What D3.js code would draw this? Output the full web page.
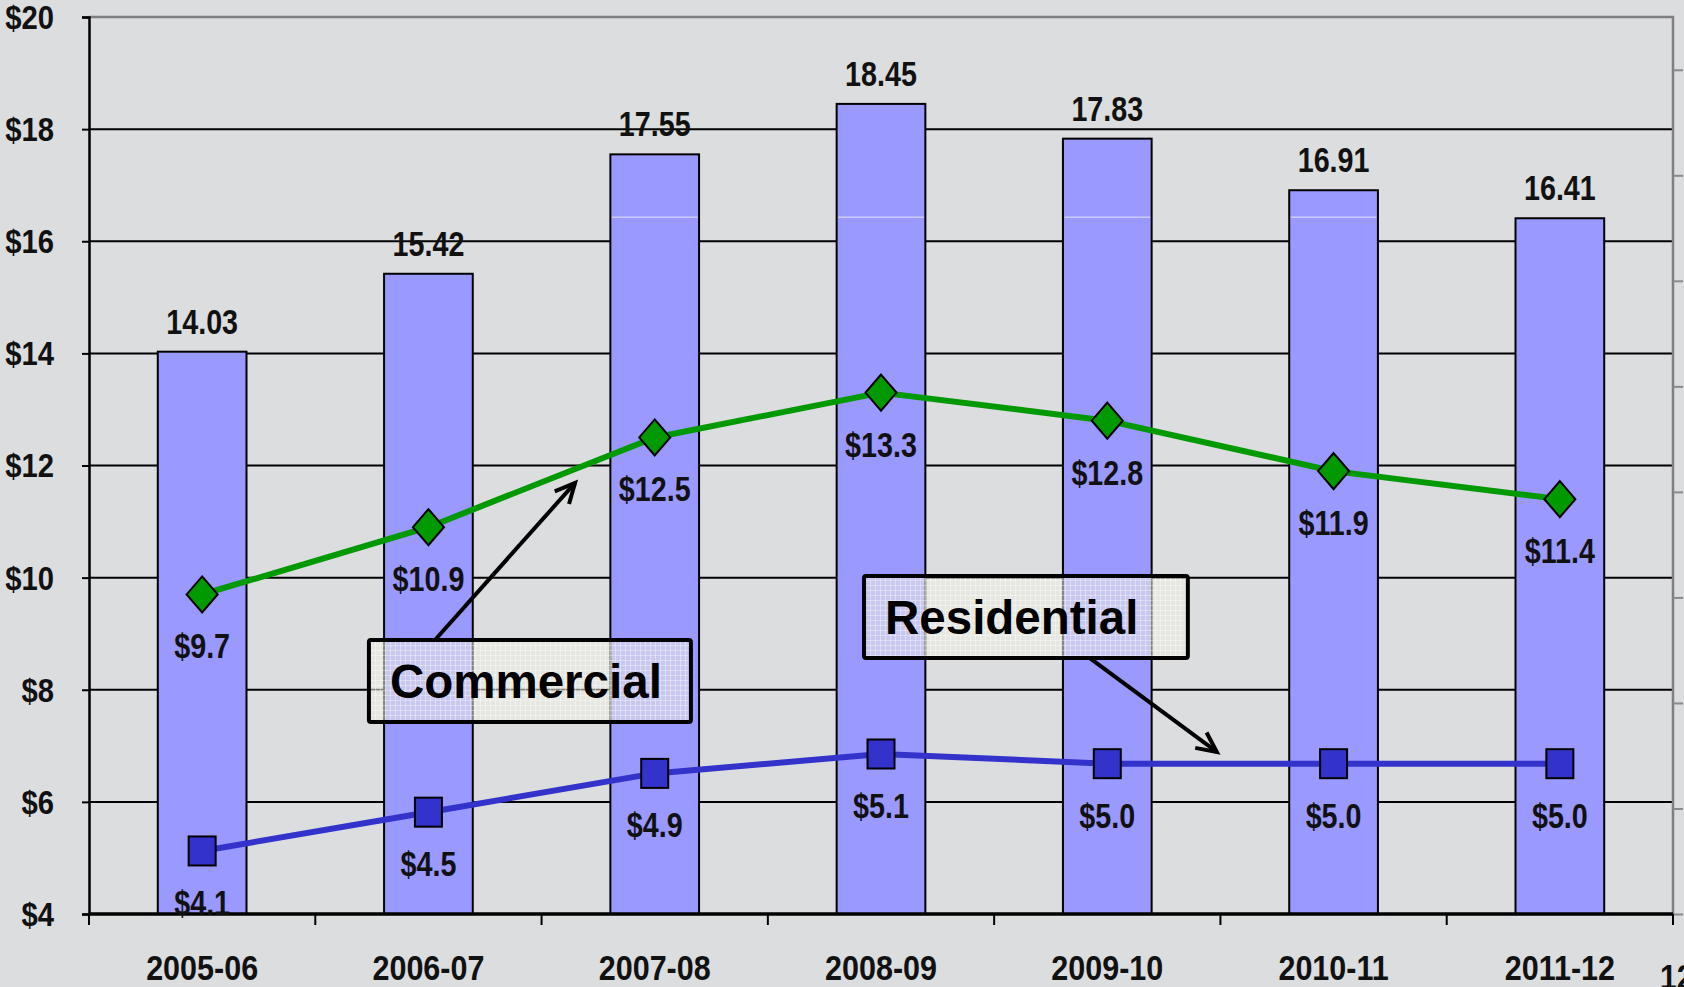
<!DOCTYPE html>
<html>
<head>
<meta charset="utf-8">
<script src="https://cdn.jsdelivr.net/npm/d3@7"></script>
<style>
  html, body { margin: 0; padding: 0; background: #dcdddf; }
  svg { display: block; }
</style>
</head>
<body>
<svg id="chart" width="1684" height="987"></svg>
<script>
// Fiscal years shown on the x axis
const years = ["2005-06", "2006-07", "2007-08", "2008-09", "2009-10", "2010-11", "2011-12"];
// Total (bars, left axis)
const totals = [14.03, 15.42, 17.55, 18.45, 17.83, 16.91, 16.41];
// Commercial (green line, left axis)
const commercial = [9.7, 10.9, 12.5, 13.3, 12.8, 11.9, 11.4];
// Residential (blue line, secondary axis)
const residential = [4.1, 4.5, 4.9, 5.1, 5.0, 5.0, 5.0];
// Left axis ticks
const yTicks = [4, 6, 8, 10, 12, 14, 16, 18, 20];
// Callouts: box corners and arrow ends, in (category index, value) units
const callouts = [
  { text: "Commercial", x0: 1.237, x1: 2.66, v0: 8.887, v1: 7.424, from: [1.529, 8.887], to: [2.148, 11.69] },
  { text: "Residential", x0: 3.425, x1: 4.856, v0: 10.03, v1: 8.566, from: [4.423, 8.566], to: [4.984, 6.89] }
];

const FONT = "'Liberation Sans', Arial, sans-serif";

const svg = d3.select("#chart");
const plot = { left: 89, right: 1673, top: 17, bottom: 914 };

const x = d3.scaleBand().domain(years).range([plot.left, plot.right]).padding(0);
const xPos = d3.scaleLinear().domain([0, years.length]).range([plot.left, plot.right]);
const y = d3.scaleLinear().domain([4, 20]).range([plot.bottom, plot.top]);
const y2 = d3.scaleLinear().domain([3.45, 12.7]).range([plot.bottom, plot.top]);
const y2Ticks = d3.scaleLinear().domain([0, 8.5]).range([plot.bottom, plot.top]);

const barW = x.bandwidth() * 0.392;
const cx = d => x(d) + x.bandwidth() / 2;

// condensed bold label helper (horizontal squeeze for an Arial Narrow look)
function narrowText(sel, fx, fy, anchor, size, squeeze = 0.82) {
  return sel
    .attr("transform", (d, i) => `translate(${fx(d, i)},${fy(d, i)}) scale(${squeeze},1)`)
    .attr("text-anchor", anchor)
    .attr("font-family", FONT).attr("font-weight", "bold").attr("font-size", size).attr("fill", "#111");
}

// pattern for callout fills
const defs = svg.append("defs");
const pat = defs.append("pattern").attr("id", "calloutFill")
  .attr("width", 5).attr("height", 5).attr("patternUnits", "userSpaceOnUse");
pat.append("rect").attr("width", 5).attr("height", 5).attr("fill", "rgb(238,238,226)").attr("fill-opacity", 0.55);
pat.append("path").attr("d", "M0,0.5H5M0.5,0V5").attr("stroke", "#ffffff").attr("stroke-opacity", 0.35).attr("stroke-width", 1);

// horizontal gridlines
svg.append("g").selectAll("line").data(yTicks.filter(t => t > 4 && t < 20)).join("line")
  .attr("x1", plot.left).attr("x2", plot.right)
  .attr("y1", d => y(d)).attr("y2", d => y(d))
  .attr("stroke", "#000").attr("stroke-width", 2);

// plot border (top and right)
svg.append("path")
  .attr("d", `M${plot.left},${y(20)}H${plot.right}V${plot.bottom}`)
  .attr("fill", "none").attr("stroke", "#7f7f7f").attr("stroke-width", 2.5);

// secondary axis ticks (no labels)
svg.append("g").attr("transform", `translate(${plot.right},0)`)
  .call(d3.axisRight(y2Ticks).tickValues(d3.range(0, 9)).tickSize(10).tickFormat(""))
  .call(g => g.select(".domain").remove())
  .call(g => g.selectAll("line").attr("stroke", "#8a8a8a").attr("stroke-width", 2));

// bars
svg.append("g").selectAll("rect").data(years).join("rect")
  .attr("x", d => cx(d) - barW / 2)
  .attr("y", (d, i) => y(totals[i]))
  .attr("width", barW)
  .attr("height", (d, i) => y(4) - y(totals[i]))
  .attr("fill", "#9999ff").attr("stroke", "#000").attr("stroke-width", 2);

// faint highlight line across the taller bars
svg.append("g").selectAll("line").data(years.filter((d, i) => totals[i] > 16.5)).join("line")
  .attr("x1", d => cx(d) - barW / 2 + 1.5).attr("x2", d => cx(d) + barW / 2 - 1.5)
  .attr("y1", y(16.43)).attr("y2", y(16.43))
  .attr("stroke", "#ffffff").attr("stroke-opacity", 0.75).attr("stroke-width", 1);

// bar value labels
narrowText(svg.append("g").selectAll("text").data(years).join("text"),
  d => cx(d), (d, i) => y(totals[i]) - 18, "middle", 35)
  .text((d, i) => totals[i].toFixed(2));

// left axis (line and ticks)
svg.append("g").attr("transform", `translate(${plot.left},0)`)
  .call(d3.axisLeft(y).tickValues(yTicks).tickSize(7).tickFormat(""))
  .call(g => g.select(".domain").attr("stroke", "#000").attr("stroke-width", 2.5))
  .call(g => g.selectAll("line").attr("stroke", "#000").attr("stroke-width", 2));
// left axis labels
narrowText(svg.append("g").selectAll("text").data(yTicks).join("text"),
  () => 54, d => y(d), "end", 34, 0.86)
  .attr("dy", "0.35em")
  .text(d => "$" + d);

// bottom axis
const bottomAxis = svg.append("g").attr("transform", `translate(0,${plot.bottom})`);
bottomAxis.append("line").attr("x1", plot.left).attr("x2", plot.right)
  .attr("stroke", "#000").attr("stroke-width", 3.5);
bottomAxis.selectAll("line.tick").data(d3.range(0, years.length + 1)).join("line")
  .attr("class", "tick")
  .attr("x1", d => xPos(d)).attr("x2", d => xPos(d))
  .attr("y1", 0).attr("y2", 11).attr("stroke", "#000").attr("stroke-width", 2);
narrowText(bottomAxis.selectAll("text").data(years).join("text"),
  d => cx(d), () => 66, "middle", 35.5, 0.86)
  .text(d => d);

// lines
const commLine = d3.line().x((d, i) => cx(years[i])).y(d => y(d));
const resLine = d3.line().x((d, i) => cx(years[i])).y(d => y2(d));
svg.append("path").attr("d", commLine(commercial))
  .attr("fill", "none").attr("stroke", "#009900").attr("stroke-width", 6).attr("stroke-linejoin", "round");
svg.append("path").attr("d", resLine(residential))
  .attr("fill", "none").attr("stroke", "#3333cc").attr("stroke-width", 6).attr("stroke-linejoin", "round");

// commercial markers (diamonds)
svg.append("g").selectAll("path").data(commercial).join("path")
  .attr("transform", (d, i) => `translate(${cx(years[i])},${y(d)})`)
  .attr("d", "M0,-18L15.5,0L0,18L-15.5,0Z")
  .attr("fill", "#009900").attr("stroke", "#000").attr("stroke-width", 2);

// residential markers (squares)
svg.append("g").selectAll("rect").data(residential).join("rect")
  .attr("x", (d, i) => cx(years[i]) - 13.5).attr("y", d => y2(d) - 14.5)
  .attr("width", 27).attr("height", 29)
  .attr("fill", "#3333cc").attr("stroke", "#000").attr("stroke-width", 2);

// point labels
const pointLabel = (vals, scale) =>
  narrowText(svg.append("g").selectAll("text").data(vals).join("text"),
    (d, i) => cx(years[i]), d => scale(d) + 64, "middle", 35)
    .text(d => "$" + d.toFixed(1));
pointLabel(commercial, y);
pointLabel(residential, y2);

// callouts with arrows
callouts.forEach(c => {
  const g = svg.append("g");
  const bx = xPos(c.x0), bw = xPos(c.x1) - xPos(c.x0);
  const by = y(c.v0), bh = y(c.v1) - y(c.v0);
  const [fx, fy] = [xPos(c.from[0]), y(c.from[1])];
  const [tx, ty] = [xPos(c.to[0]), y(c.to[1])];
  g.append("line").attr("x1", fx).attr("y1", fy).attr("x2", tx).attr("y2", ty)
    .attr("stroke", "#000").attr("stroke-width", 4);
  const ang = Math.atan2(ty - fy, tx - fx), len = 22, spread = 0.45;
  g.append("path")
    .attr("d", `M${tx - len * Math.cos(ang - spread)},${ty - len * Math.sin(ang - spread)}L${tx},${ty}L${tx - len * Math.cos(ang + spread)},${ty - len * Math.sin(ang + spread)}`)
    .attr("fill", "none").attr("stroke", "#000").attr("stroke-width", 4).attr("stroke-linejoin", "miter");
  g.append("rect").attr("x", bx).attr("y", by).attr("width", bw).attr("height", bh).attr("rx", 2)
    .attr("fill", "url(#calloutFill)").attr("stroke", "#000").attr("stroke-width", 4);
  g.append("text").attr("x", bx + 21).attr("y", by + bh / 2 + 17)
    .attr("font-family", FONT).attr("font-weight", "bold").attr("font-size", 47.5).attr("fill", "#000")
    .text(c.text);
});

// page number
narrowText(svg.append("g").selectAll("text").data(["12"]).join("text"),
  () => 1660, () => 989, "start", 35, 0.86)
  .text(d => d);
</script>
</body>
</html>
